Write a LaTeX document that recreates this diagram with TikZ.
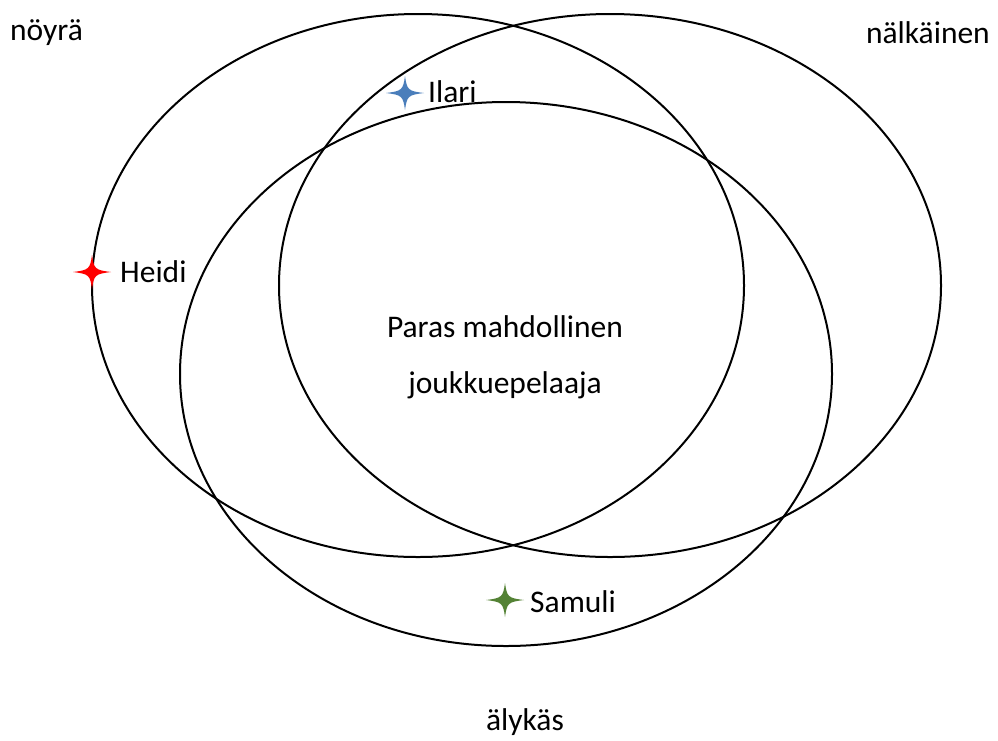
\documentclass[tikz,border=0pt]{standalone}
\usepackage{fontspec}
\setmainfont{Carlito}
\usetikzlibrary{shapes.geometric}
\definecolor{starblue}{RGB}{74,126,187}
\definecolor{stargreen}{RGB}{84,130,53}
\begin{document}
\begin{tikzpicture}[x=1pt,y=-1pt,
  ring/.style={draw=black,line width=2pt,ellipse,inner sep=0pt},
  lbl/.style={font=\fontsize{31.5}{35}\selectfont,inner sep=0pt},
  starshape/.pic={\fill[#1] (-19,0) .. controls (-3,-2) and (-2,-3) .. (0,-17) .. controls (2,-3) and (3,-2) .. (19,0) .. controls (3,2) and (2,3) .. (0,17) .. controls (-2,3) and (-3,2) .. (-19,0) -- cycle;}]
\useasboundingbox (0,0) rectangle (998,740);
\node[ring,minimum width=652pt,minimum height=543pt] (e1) at (418,285.5) {};
\node[ring,minimum width=662pt,minimum height=543pt] (e2) at (610,285.5) {};
\node[ring,minimum width=652pt,minimum height=544pt] (e3) at (506,374) {};
\node[lbl,anchor=west] (noyra) at (10,33) {nöyrä};
\node[lbl,anchor=east] (nalk) at (990,33) {nälkäinen};
\node[lbl] (alykas) at (525,722) {älykäs};
\node[lbl,anchor=west] (ilari) at (428,92) {Ilari};
\node[lbl,anchor=west] (heidi) at (120,272) {Heidi};
\node[lbl,anchor=west] (samuli) at (530,602) {Samuli};
\node[lbl] (p1) at (505,327) {Paras mahdollinen};
\node[lbl] (p2) at (505,385) {joukkuepelaaja};
\pic at (405,93) {starshape=starblue};
\pic at (92,272) {starshape=red};
\pic at (505,600) {starshape=stargreen};
\end{tikzpicture}
\end{document}
